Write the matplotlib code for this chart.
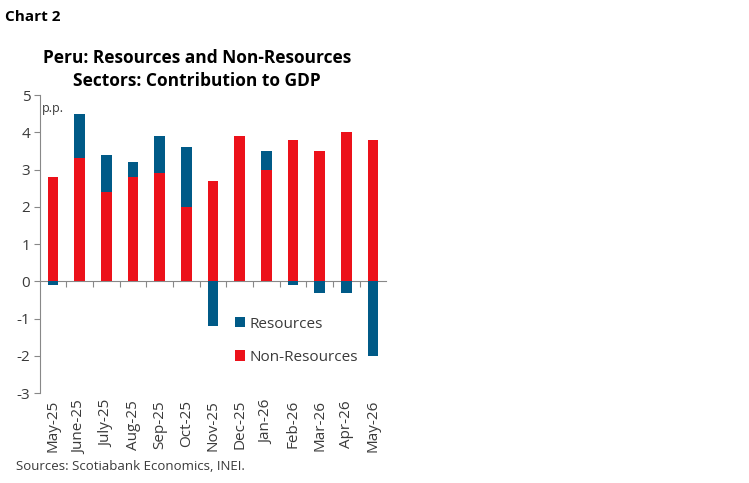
import numpy as np
import matplotlib.pyplot as plt

months = ['May-25', 'June-25', 'July-25', 'Aug-25', 'Sep-25', 'Oct-25', 'Nov-25',
          'Dec-25', 'Jan-26', 'Feb-26', 'Mar-26', 'Apr-26', 'May-26']
nonResources = [2.8, 3.3, 2.4, 2.8, 2.9, 2.0, 2.7, 3.9, 3.0, 3.8, 3.5, 4.0, 3.8]
resources = [-0.1, 1.2, 1.0, 0.4, 1.0, 1.6, -1.2, 0.0, 0.5, -0.1, -0.3, -0.3, -2.0]

red = '#EC111A'
blue = '#005A87'
grey = '#3a3a3a'

plt.rcParams['font.family'] = ['Open Sans', 'DejaVu Sans']
plt.rcParams['axes.unicode_minus'] = False

fig = plt.figure(figsize=(7.49, 4.83), dpi=100)
ax = fig.add_axes([0.0534, 0.186, 0.462, 0.617])

x = np.arange(len(months))
nonRes = np.array(nonResources)
res = np.array(resources)

# positive resources stack on top of non-resources, negative ones go below zero
resBottom = np.where(res > 0, nonRes, 0)
ax.bar(x, nonRes, width=0.4, color=red, label='Non-Resources', zorder=2)
ax.bar(x, res, bottom=resBottom, width=0.4, color=blue, label='Resources', zorder=2)

ax.set_ylim(-3, 5)
ax.set_xlim(-0.49, 12.49)
ax.set_yticks(range(-3, 6))
ax.tick_params(axis='y', length=4, color='#888888', labelsize=11, labelcolor=grey, pad=3)

for side in ['top', 'right', 'bottom']:
    ax.spines[side].set_visible(False)
ax.spines['left'].set_color('#888888')

ax.set_xticks(x)
ax.set_xticklabels(months, rotation=90, fontsize=11, color=grey)
ax.tick_params(axis='x', length=0, pad=5)

# zero line with tick marks between the categories
zero = ax.secondary_xaxis(3 / 8)
zero.set_xticks(x[:-1] + 0.5)
zero.set_xticklabels([])
zero.tick_params(axis='x', direction='out', length=4, color='#888888')
zero.spines['bottom'].set_color('#888888')
zero.spines['top'].set_visible(False)

ax.text(0.005, 0.955, 'p.p.', transform=ax.transAxes, fontsize=9, color=grey, va='center')

handles, labels = ax.get_legend_handles_labels()
ax.legend(handles[::-1], labels[::-1], loc='center left', bbox_to_anchor=(0.525, 0.176),
          frameon=False, handlelength=0.65, handleheight=0.65, handletextpad=0.3,
          labelspacing=1.2, fontsize=11, labelcolor=grey)

fig.text(0.007, 0.965, 'Chart 2', fontsize=11, fontweight='bold', va='center', color='black')
fig.text(0.263, 0.856, 'Peru: Resources and Non-Resources\nSectors: Contribution to GDP',
         fontsize=12.5, fontweight='bold', ha='center', va='center', color='black',
         linespacing=1.3)
fig.text(0.022, 0.035, 'Sources: Scotiabank Economics, INEI.', fontsize=9.5, color=grey,
         va='center')

fig.savefig('out.png', dpi=100)
